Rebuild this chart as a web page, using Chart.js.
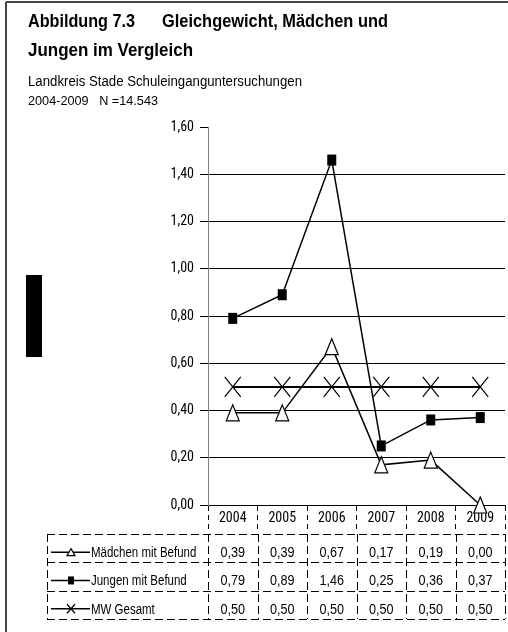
<!DOCTYPE html>
<html>
<head>
<meta charset="utf-8">
<script src="https://cdn.jsdelivr.net/npm/chart.js@4.4.1/dist/chart.umd.min.js"></script>
<style>
  body { margin: 0; background: #fff; }
  canvas { display: block; }
</style>
</head>
<body>
<canvas id="myChart" width="508" height="632"></canvas>
<script>
// data
var years = ['2004', '2005', '2006', '2007', '2008', '2009'];
var maedchen = [0.39, 0.39, 0.67, 0.17, 0.19, 0.00];
var jungen = [0.79, 0.89, 1.46, 0.25, 0.36, 0.37];
var mwGesamt = [0.50, 0.50, 0.50, 0.50, 0.50, 0.50];
var seriesNames = ['Mädchen mit Befund', 'Jungen mit Befund', 'MW Gesamt'];
var yMin = 0, yMax = 1.6, yStep = 0.2;

var titleLines = ['Abbildung 7.3', 'Gleichgewicht, Mädchen und', 'Jungen im Vergleich'];
var subtitleLines = ['Landkreis Stade Schuleinganguntersuchungen', '2004-2009   N =14.543'];

var markerKinds = ['tri', 'sq', 'x'];

function fmt(v) {
    return v.toFixed(2).replace('.', ',');
}

// triangle / square / cross, centred on (x, y), size w x h
function drawMarker(ctx, kind, x, y, w, h) {
    ctx.save();
    ctx.strokeStyle = '#000';
    ctx.fillStyle = '#000';
    ctx.setLineDash([]);
    ctx.beginPath();
    if (kind === 'tri') {
        ctx.lineWidth = 1.2;
        ctx.moveTo(x, y - h / 2);
        ctx.lineTo(x + w / 2, y + h / 2);
        ctx.lineTo(x - w / 2, y + h / 2);
        ctx.closePath();
        ctx.fillStyle = '#fff';
        ctx.fill();
        ctx.stroke();
    } else if (kind === 'sq') {
        ctx.fillRect(x - w / 2, y - h / 2, w, h);
    } else {
        ctx.lineWidth = 1.2;
        ctx.moveTo(x - w / 2, y - h / 2);
        ctx.lineTo(x + w / 2, y + h / 2);
        ctx.moveTo(x + w / 2, y - h / 2);
        ctx.lineTo(x - w / 2, y + h / 2);
        ctx.stroke();
    }
    ctx.restore();
}

// narrow text: Arial-like font squeezed horizontally
function narrowText(ctx, text, x, y, font, align, width, squeeze) {
    ctx.save();
    ctx.font = font;
    ctx.textBaseline = 'alphabetic';
    var w = ctx.measureText(text).width;
    var sx = width ? width / w : (squeeze || 0.82);
    var left = x;
    if (align === 'center') left = x - w * sx / 2;
    if (align === 'right') left = x - w * sx;
    ctx.translate(left, y);
    ctx.scale(sx, 1);
    ctx.fillStyle = '#000';
    ctx.textAlign = 'left';
    ctx.fillText(text, 0, 0);
    ctx.restore();
}

function line(ctx, x1, y1, x2, y2) {
    ctx.beginPath();
    ctx.moveTo(x1, y1);
    ctx.lineTo(x2, y2);
    ctx.stroke();
}

var pagePlugin = {
    id: 'page',
    beforeDraw: function (chart) {
        var ctx = chart.ctx;
        ctx.save();
        ctx.fillStyle = '#fff';
        ctx.fillRect(0, 0, chart.width, chart.height);
        ctx.restore();
    },
    afterDatasetsDraw: function (chart) {
        // point markers at the positions the library computed
        var ctx = chart.ctx;
        var sizes = [[13, 16], [9, 11], [16, 20]];
        chart.data.datasets.forEach(function (ds, d) {
            chart.getDatasetMeta(d).data.forEach(function (pt) {
                drawMarker(ctx, markerKinds[d], pt.x, pt.y, sizes[d][0], sizes[d][1]);
            });
        });
    },
    afterDraw: function (chart) {
        var ctx = chart.ctx;
        var xs = chart.scales.x;
        var area = chart.chartArea;

        // frame (top and left edge) and the black block
        ctx.save();
        ctx.strokeStyle = '#444';
        ctx.lineWidth = 2;
        line(ctx, 6, 2, 508, 2);
        line(ctx, 6, 2, 6, 632);
        ctx.fillStyle = '#000';
        ctx.fillRect(26, 275, 16, 82);
        ctx.restore();

        // headings
        narrowText(ctx, titleLines[0], 28, 27, 'bold 18px "Liberation Sans"', 'left', 107);
        narrowText(ctx, titleLines[1], 162, 27, 'bold 18px "Liberation Sans"', 'left', 226);
        narrowText(ctx, titleLines[2], 28, 56, 'bold 18px "Liberation Sans"', 'left', 165);
        narrowText(ctx, subtitleLines[0], 28, 86, '14px "Liberation Sans"', 'left', 274);
        narrowText(ctx, subtitleLines[1], 28, 105, '13px "Liberation Sans"', 'left', 130);

        // data table under the x axis
        var rows = [maedchen, jungen, mwGesamt];
        var top = 534, rowH = 28.3, tableLeft = 47;
        var n = years.length;
        var colW = (area.right - area.left) / n;
        var bottom = Math.round(top + rows.length * rowH);
        ctx.save();
        ctx.strokeStyle = '#000';
        ctx.lineWidth = 1;
        ctx.setLineDash([8, 4]);
        for (var r = 0; r <= rows.length; r++) {
            var ry = Math.round(top + r * rowH) + 0.5;
            line(ctx, tableLeft, ry, area.right, ry);
        }
        line(ctx, tableLeft + 0.5, top, tableLeft + 0.5, bottom);
        for (var c = 0; c <= n; c++) {
            var bx = Math.round(area.left + c * colW) + 0.5;
            line(ctx, bx, top, bx, bottom);
        }
        ctx.restore();

        var legendSizes = [[8, 7], [6, 8], [8, 9]];
        for (var i = 0; i < rows.length; i++) {
            var cy = top + i * rowH + rowH / 2 + 4;
            // legend sample
            ctx.save();
            ctx.strokeStyle = '#000';
            ctx.lineWidth = 1.5;
            line(ctx, 51, cy, 90, cy);
            ctx.restore();
            drawMarker(ctx, markerKinds[i], 71, cy, legendSizes[i][0], legendSizes[i][1]);
            narrowText(ctx, seriesNames[i], 91, cy + 5, '14px "Liberation Sans"', 'left', null, 0.82);
            for (var j = 0; j < n; j++) {
                narrowText(ctx, fmt(rows[i][j]), xs.getPixelForValue(j), cy + 5, '14px "Liberation Sans"', 'center', null, 0.9);
            }
        }
    }
};

var ctx = document.getElementById('myChart').getContext('2d');

var myChart = new Chart(ctx, {
    type: 'line',
    data: {
        labels: years,
        datasets: [{
            label: seriesNames[0],
            data: maedchen,
            borderColor: '#000',
            borderWidth: 1.5,
            pointRadius: 0,
            clip: false
        },
        {
            label: seriesNames[1],
            data: jungen,
            borderColor: '#000',
            borderWidth: 1.5,
            pointRadius: 0,
            clip: false
        },
        {
            label: seriesNames[2],
            data: mwGesamt,
            borderColor: '#000',
            borderWidth: 2,
            pointRadius: 0,
            clip: false
        }]
    },
    options: {
        responsive: false,
        animation: false,
        devicePixelRatio: 1,
        events: [],
        layout: {
            padding: { top: 127, left: 0, right: 3, bottom: 102 }
        },
        plugins: {
            legend: { display: false },
            tooltip: { enabled: false },
            title: { display: false }
        },
        elements: {
            line: { tension: 0 }
        },
        scales: {
            x: {
                offset: true,
                grid: {
                    offset: true,
                    drawOnChartArea: false,
                    drawTicks: true,
                    tickLength: 25,
                    tickColor: '#000',
                    tickWidth: 1,
                    tickBorderDash: [5, 4]
                },
                border: { display: true, color: '#000', width: 1 },
                ticks: {
                    color: '#000',
                    padding: -20,
                    maxRotation: 0,
                    font: { family: '"Roboto Condensed", "Liberation Sans"', size: 14 }
                },
                afterFit: function (scale) {
                    scale.height = 25;
                    scale.paddingLeft = 0;
                    scale.paddingRight = 0;
                }
            },
            y: {
                min: yMin,
                max: yMax,
                ticks: {
                    stepSize: yStep,
                    color: '#000',
                    padding: 6,
                    font: { family: '"Roboto Condensed", "Liberation Sans"', size: 14 },
                    callback: function (v) { return fmt(v); }
                },
                grid: {
                    color: function (c) {
                        return c.tick && c.tick.value > yMax - 0.01 ? 'rgba(0,0,0,0)' : '#000';
                    },
                    tickColor: '#000',
                    tickLength: 8,
                    lineWidth: 1
                },
                border: { display: true, color: '#808080', width: 1 },
                afterFit: function (scale) {
                    scale.width = 208;
                }
            }
        }
    },
    plugins: [pagePlugin]
});
</script>
</body>
</html>
